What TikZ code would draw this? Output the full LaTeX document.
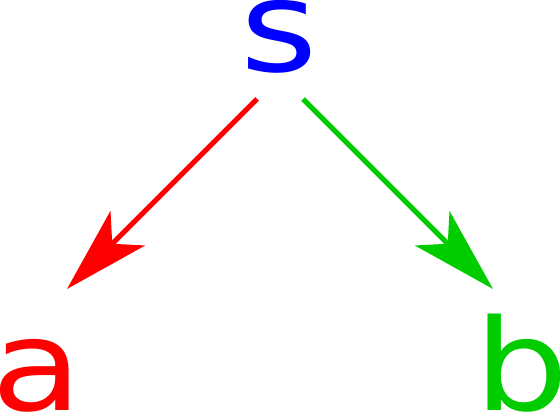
\documentclass[tikz,border=0pt]{standalone}
\usepackage{fontspec}
\setmainfont{DejaVu Sans}
\usetikzlibrary{arrows.meta}
\definecolor{cred}{RGB}{255,0,0}
\definecolor{cgreen}{RGB}{0,204,0}
\definecolor{cblue}{RGB}{0,0,255}
\tikzset{
  letter/.style={inner sep=0pt, outer sep=0pt, anchor=base west,
    font=\fontsize{127}{127}\selectfont},
  conn/.style={line width=5pt,
    -{Stealth[length=86pt,width=49pt,inset=22pt,line width=0pt]}}
}
\begin{document}
\begin{tikzpicture}[x=1pt,y=1pt]
\useasboundingbox (0,0) rectangle (560,413);
\node[letter, text=cblue] (s) at (240,341.5) {\scalebox{1.17}[1]{s}};
\node[letter, text=cred] (a) at (-8.9,2.5) {\scalebox{1.17}[1]{a}};
\node[letter, text=cgreen] (b) at (474.5,2.5) {\scalebox{1.17}[1]{b}};
\coordinate (sl) at (257,314);
\coordinate (sr) at (303,314);
\coordinate (at) at (67,124);
\coordinate (bt) at (493,124);
\draw[conn, cred] (sl) -- (at);
\draw[conn, cgreen] (sr) -- (bt);
\end{tikzpicture}
\end{document}
